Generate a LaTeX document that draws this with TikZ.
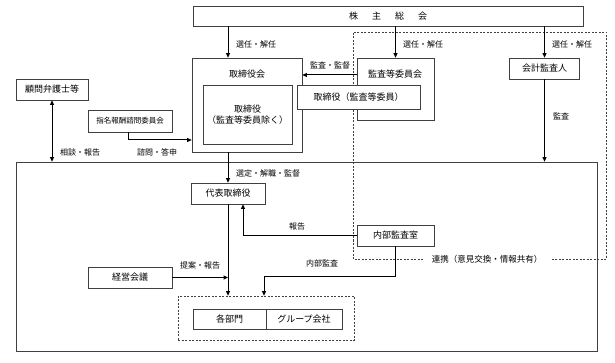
\documentclass[tikz,border=0pt]{standalone}
\usepackage{fontspec}
\setmainfont{Noto Sans CJK JP}
\usetikzlibrary{arrows.meta}
\tikzset{
  box/.style={draw=black!75, line width=0.7pt, fill=white, inner sep=0pt, align=center, font=\fontsize{9}{11}\selectfont},
  lbl/.style={inner sep=0pt, font=\fontsize{8}{10}\selectfont},
  arr/.style={line width=1pt, -{Triangle[length=4.5pt,width=4pt]}},
  dashline/.style={draw=black!75, line width=0.7pt, dash pattern=on 2pt off 1.5pt},
}
\begin{document}
\begin{tikzpicture}[x=1pt,y=-1pt]
\useasboundingbox (0,0) rectangle (615,363);
% big box
\node[box, minimum width=581, minimum height=189, fill=none] (big) at (306.5,256.5) {};
% dashed region
\draw[dashline] (423,259) -- (353,259) -- (353,32) -- (606,32) -- (606,259) -- (550,259);
\node[lbl, font=\fontsize{8.5}{10}\selectfont] (renkei) at (487,259) {連携（意見交換・情報共有）};
% top
\node[box, minimum width=390, minimum height=20] (soukai) at (388,16) {株\hspace{14pt}主\hspace{14pt}総\hspace{14pt}会};
% board
\node[box, minimum width=110, minimum height=94] (board) at (247,105) {};
\node[lbl, font=\fontsize{9}{11}\selectfont] (boardt) at (247,74) {取締役会};
\node[box, minimum width=89, minimum height=59] (dir) at (247.5,114.5) {取締役\\（監査等委員除く）};
% audit committee
\node[box, minimum width=77, minimum height=62] (acbox) at (395.5,89) {};
\node[lbl, font=\fontsize{9}{11}\selectfont] (acboxt) at (395,74) {監査等委員会};
\node[box, minimum width=123, minimum height=24] (acdir) at (358.5,97) {取締役（監査等委員）};
% accounting auditor
\node[box, minimum width=70, minimum height=21] (auditor) at (544.5,68.5) {会計監査人};
% lawyer
\node[box, minimum width=72, minimum height=21] (lawyer) at (52,89.5) {顧問弁護士等};
% nomination
\node[box, minimum width=84, minimum height=22, font=\fontsize{7.5}{9}\selectfont] (nomin) at (130,121) {指名報酬諮問委員会};
% ceo
\node[box, minimum width=74, minimum height=21] (ceo) at (228,193.5) {代表取締役};
% internal audit
\node[box, minimum width=77, minimum height=21] (iaudit) at (395.5,235.5) {内部監査室};
% mgmt
\node[box, minimum width=84, minimum height=21] (mgmt) at (130,277.5) {経営会議};
% departments
\node[box, minimum width=176, minimum height=44, fill=none, dashline] (wrap) at (266,318) {};
\node[box, minimum width=73, minimum height=20] (dept) at (229.5,319) {各部門};
\node[box, minimum width=76, minimum height=20] (group) at (304,319) {グループ会社};

% arrows
\draw[arr] (soukai.south -| ceo.north) -- (board.north -| ceo.north);
\draw[arr] (acbox.north |- soukai.south) -- (acbox.north);
\draw[arr] (auditor.north |- soukai.south) -- (auditor.north);
\draw[arr] ([yshift=14pt]acbox.west) -- ([yshift=14pt]acbox.west -| board.east);
\draw[arr] (auditor.south) -- (auditor.south |- big.north);
\draw[line width=1pt, {Triangle[length=4.5pt,width=4pt]}-{Triangle[length=4.5pt,width=4pt]}] (lawyer.south) -- (lawyer.south |- big.north);
\draw[arr] ([xshift=-2pt]nomin.south) |- ([yshift=-35pt]board.west);
\draw[arr] (board.south -| ceo.north) -- (ceo.north);
\draw[arr] (ceo.south) -- (ceo.south |- wrap.north);
\draw[arr] (mgmt.east) -- (mgmt.east -| ceo.south);
\draw[arr] (iaudit.west) -| ([xshift=15pt]ceo.south);
\draw[arr] (iaudit.south) |- ([xshift=-2pt,yshift=19pt]wrap.north) -- ([xshift=-2pt]wrap.north);

% labels
\node[lbl] (l1) at (256,44) {選任・解任};
\node[lbl] (l2) at (423,44) {選任・解任};
\node[lbl] (l3) at (572,44) {選任・解任};
\node[lbl] (l4) at (330,65) {監査・監督};
\node[lbl] (l5) at (561,116) {監査};
\node[lbl] (l6) at (80,152) {相談・報告};
\node[lbl] (l7) at (157,152) {諮問・答申};
\node[lbl] (l8) at (268,173) {選定・解職・監督};
\node[lbl] (l9) at (297,226) {報告};
\node[lbl] (l10) at (200,265) {提案・報告};
\node[lbl] (l11) at (322,263) {内部監査};
\end{tikzpicture}
\end{document}
